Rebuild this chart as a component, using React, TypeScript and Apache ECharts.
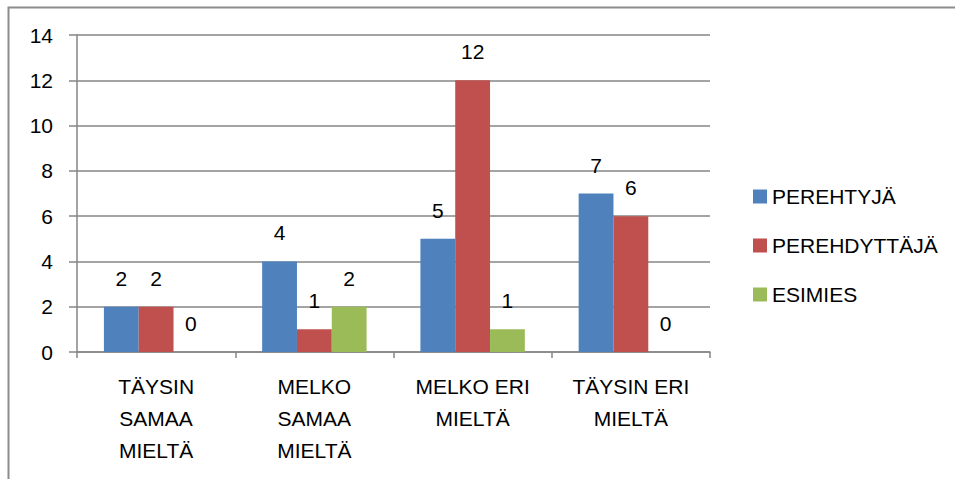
import React, { useEffect, useRef } from "react";
import * as echarts from "echarts";

const categories = ["TÄYSIN\nSAMAA\nMIELTÄ", "MELKO\nSAMAA\nMIELTÄ", "MELKO ERI\nMIELTÄ", "TÄYSIN ERI\nMIELTÄ"];
const seriesNames = ["PEREHTYJÄ", "PEREHDYTTÄJÄ", "ESIMIES"];
const perehtyja = [2, 4, 5, 7];
const perehdyttaja = [2, 1, 12, 6];
const esimies = [0, 2, 1, 0];
const colors = ["#4F81BD", "#C0504D", "#9BBB59"];

const FONT = "Liberation Sans";
const FS = 21;

export default function App() {
  const ref = useRef<HTMLDivElement>(null);
  useEffect(() => {
    document.body.style.margin = "0";
    const chart = echarts.init(ref.current!, null, { renderer: "svg" });
    const mk = (name: string, vals: number[], color: string) => ({
      name,
      type: "bar",
      data: vals,
      itemStyle: { color },
      barGap: "0%",
      barCategoryGap: "34%",
      label: {
        show: true,
        position: "top",
        distance: 18,
        color: "#000",
        fontSize: FS,
        fontFamily: FONT,
      },
    });
    chart.setOption({
      animation: false,
      textStyle: { fontFamily: FONT },
      graphic: [
        {
          type: "rect",
          shape: { x: 8.5, y: 7.5, width: 1000, height: 600 },
          style: { fill: "none", stroke: "#8c8c8c", lineWidth: 2 },
          silent: true,
        },
      ],
      grid: { left: 77, right: 245, top: 35, bottom: 127, containLabel: false },
      legend: {
        orient: "vertical",
        left: 748,
        top: 181,
        itemWidth: 14,
        itemHeight: 14,
        itemGap: 28,
        icon: "rect",
        data: seriesNames,
        textStyle: { fontSize: FS, color: "#000", fontFamily: FONT, padding: [0, 0, 0, 0] },
      },
      xAxis: {
        type: "category",
        data: categories,
        axisLine: { lineStyle: { color: "#868686", width: 1.5 } },
        axisTick: { show: true, length: 6, lineStyle: { color: "#868686", width: 1.5 } },
        axisLabel: { color: "#000", fontSize: FS, fontFamily: FONT, lineHeight: 32, margin: 18 },
      },
      yAxis: {
        type: "value",
        min: 0,
        max: 14,
        interval: 2,
        axisLine: { show: true, lineStyle: { color: "#868686", width: 1.5 } },
        axisTick: { show: true, length: 8, lineStyle: { color: "#868686", width: 1.5 } },
        axisLabel: { color: "#000", fontSize: FS, fontFamily: FONT, margin: 24 },
        splitLine: { show: true, lineStyle: { color: "#868686", width: 1.5 } },
      },
      series: [
        mk(seriesNames[0], perehtyja, colors[0]),
        mk(seriesNames[1], perehdyttaja, colors[1]),
        mk(seriesNames[2], esimies, colors[2]),
      ],
    });
    return () => chart.dispose();
  }, []);
  return <div ref={ref} style={{ width: 955, height: 479 }} />;
}
